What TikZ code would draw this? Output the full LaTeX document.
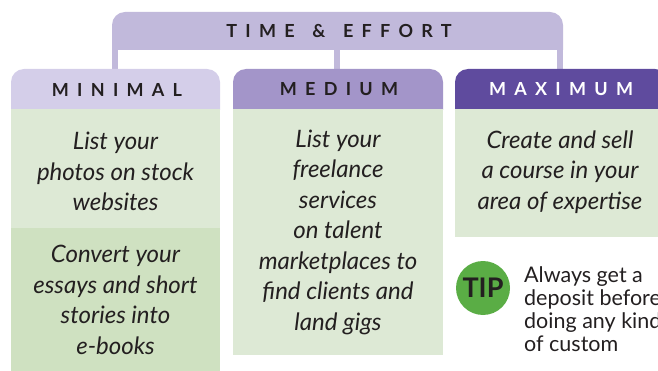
\documentclass[tikz,border=0pt]{standalone}
\usepackage{fontspec}
\setmainfont{Lato}
\newfontfamily\headfont[LetterSpace=46]{Lato}
\definecolor{banner}{HTML}{C1B9DB}
\definecolor{minhead}{HTML}{D4CEE9}
\definecolor{medhead}{HTML}{A395C9}
\definecolor{maxhead}{HTML}{5F4B9E}
\definecolor{greenA}{HTML}{DDE9D5}
\definecolor{greenB}{HTML}{CFE1C1}
\definecolor{tipgreen}{HTML}{5AAD45}
\definecolor{ink}{HTML}{231F20}
\tikzset{
  headtext/.style={inner sep=0pt, font=\headfont\bfseries\fontsize{18}{20}\selectfont, text=ink},
  bodytext/.style={inner sep=0pt, align=center, text=ink,
    font=\itshape\fontsize{24}{30.5}\selectfont},
  tiptext/.style={inner sep=0pt, align=left, anchor=west, text=ink,
    font=\fontsize{21.5}{23}\selectfont},
}
\begin{document}
\begin{tikzpicture}[x=1pt,y=-1pt]
\useasboundingbox (0,0) rectangle (658,371);
\clip (0,0) rectangle (658,371);
% stems
\fill[banner] (112,40) rectangle (118,72);
\fill[banner] (334,40) rectangle (340,72);
\fill[banner] (557,40) rectangle (563,72);
% banner
\fill[banner] (112,50) [rounded corners=13pt] -- (112,12) -- (563,12) [sharp corners] -- (563,50) -- cycle;
\node[headtext] (te) at (339,31) {TIME \hspace{5pt}\&\hspace{5pt} EFFORT};
% minimal column
\fill[minhead] (11,110) [rounded corners=13pt] -- (11,69) -- (220,69) [sharp corners] -- (220,110) -- cycle;
\fill[greenA] (11,109) rectangle (220,228);
\fill[greenB] (11,228) rectangle (220,371);
\node[headtext] (min) at (117,89.5) {MINIMAL};
\node[bodytext] (m1) at (115.5,171.5) {List your\\photos on stock\\websites};
\node[bodytext] (m2) at (115.5,300) {Convert your\\essays and short\\stories into\\e-books};
% medium column
\fill[medhead] (233,110) [rounded corners=13pt] -- (233,69) -- (443,69) [sharp corners] -- (443,110) -- cycle;
\fill[greenA] (233,109) rectangle (443,355);
\node[headtext] (med) at (339,89.5) {MEDIUM};
\node[bodytext] (md) at (338,232) {List your\\freelance\\services\\on talent\\marketplaces to\\find clients and\\land gigs};
% maximum column
\fill[maxhead] (455,110) [rounded corners=13pt] -- (455,69) -- (668,69) [sharp corners] -- (668,110) -- cycle;
\fill[greenA] (455,109) rectangle (668,237);
\node[headtext, text=white] (max) at (561,89.5) {MAXIMUM};
\node[bodytext] (mx) at (560,172) {Create and sell\\a course in your\\area of expertise};
% tip
\node[circle, fill=tipgreen, minimum size=54pt, inner sep=0pt, text=ink,
  font=\bfseries\fontsize{27}{27}\selectfont] (tip) at (483,288) {TIP};
\node[tiptext] (tt) at (524,309) {Always get a\\deposit before\\doing any kind\\of custom};
\end{tikzpicture}
\end{document}
